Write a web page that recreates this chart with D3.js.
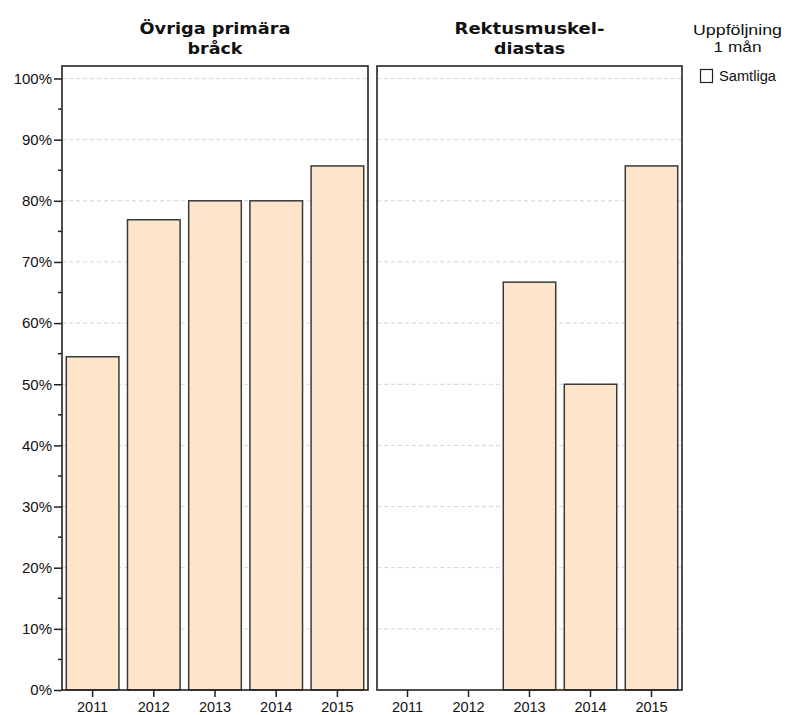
<!DOCTYPE html>
<html><head><meta charset="utf-8">
<script src="https://cdn.jsdelivr.net/npm/d3@7"></script>
<style>body{margin:0;background:#fff}svg{display:block}</style>
</head><body>
<svg id="c" width="786" height="715"></svg>
<script>
const years = ["2011","2012","2013","2014","2015"];
const panelTitles = [["Övriga primära","bråck"],["Rektusmuskel-","diastas"]];
const valuesOvriga = [0.545, 0.769, 0.80, 0.80, 0.857];
const valuesRektus = [null, null, 0.667, 0.50, 0.857];
const yTicks = [0,0.1,0.2,0.3,0.4,0.5,0.6,0.7,0.8,0.9,1.0];
const yMinorTicks = [0.05,0.15,0.25,0.35,0.45,0.55,0.65,0.75,0.85,0.95];
const legendTitle = ["Uppföljning","1 mån"];
const legendLabel = "Samtliga";

(function(){
const svg = d3.select("#c");
const frameTop = 66, frameBottom = 690;
const y = d3.scaleLinear().domain([0,1]).range([690, 78.5]);
const titleWidths = [[151,55],[150,71]];
const panels = [
  {x0:62, x1:368, vals:valuesOvriga, title:panelTitles[0], tw:titleWidths[0]},
  {x0:377, x1:682, vals:valuesRektus, title:panelTitles[1], tw:titleWidths[1]}
];
const fill = "#fde5cc", stroke = "#3a3a3a";

panels.forEach((p,i)=>{
  const x = d3.scaleBand().domain(years).range([p.x0,p.x1]).paddingInner(0.14).paddingOuter(0.07);
  const g = svg.append("g");
  g.selectAll("line.grid").data(yTicks.filter(t=>t>0)).enter().append("line")
    .attr("x1",p.x0).attr("x2",p.x1).attr("y1",d=>y(d)).attr("y2",d=>y(d))
    .attr("stroke","#d4d4d4").attr("stroke-width",1).attr("stroke-dasharray","4,3");
  const data = years.map((yr,j)=>({yr, v:p.vals[j]})).filter(d=>d.v!=null);
  g.selectAll("rect.bar").data(data).enter().append("rect")
    .attr("x",d=>x(d.yr)).attr("width",x.bandwidth())
    .attr("y",d=>y(d.v)).attr("height",d=>y(0)-y(d.v))
    .attr("fill",fill).attr("stroke",stroke).attr("stroke-width",1.5);
  g.append("rect").attr("x",p.x0).attr("y",frameTop).attr("width",p.x1-p.x0).attr("height",frameBottom-frameTop)
    .attr("fill","none").attr("stroke","#222").attr("stroke-width",1.6);
  const xa = svg.append("g").attr("transform",`translate(0,${frameBottom})`)
    .call(d3.axisBottom(x).tickSize(7).tickPadding(5));
  xa.select(".domain").remove();
  xa.selectAll("line").attr("stroke","#222").attr("stroke-width",1.5);
  xa.selectAll("text").attr("font-family","Liberation Sans, Arial, sans-serif").attr("font-size",14.5).attr("fill","#111");
  const cx = (p.x0+p.x1)/2;
  p.title.forEach((t,k)=>svg.append("text").attr("x",cx).attr("y",k?53.5:33.5)
    .attr("text-anchor","middle").attr("font-family","DejaVu Sans, sans-serif")
    .attr("font-weight","bold").attr("font-size",16).attr("fill","#111")
    .attr("textLength",p.tw[k]).attr("lengthAdjust","spacingAndGlyphs").text(t));
});

const ya = svg.append("g").attr("transform","translate(62,0)")
  .call(d3.axisLeft(y).tickValues(yTicks).tickFormat(d3.format(".0%")).tickSize(8).tickPadding(2));
ya.select(".domain").remove();
ya.selectAll("line").attr("stroke","#222").attr("stroke-width",1.5);
ya.selectAll("text").attr("font-family","Liberation Sans, Arial, sans-serif").attr("font-size",15).attr("fill","#111");
svg.append("g").selectAll("line").data(yMinorTicks).enter().append("line")
  .attr("x1",58).attr("x2",62).attr("y1",d=>y(d)).attr("y2",d=>y(d))
  .attr("stroke","#222").attr("stroke-width",1.5);

const legendWidths = [89,48];
legendTitle.forEach((t,k)=>svg.append("text").attr("x",737.5).attr("y",k?52:34.5).attr("text-anchor","middle")
  .attr("font-family","Liberation Sans, Arial, sans-serif").attr("font-size",15).attr("fill","#111")
  .attr("textLength",legendWidths[k]).attr("lengthAdjust","spacingAndGlyphs").text(t));
svg.append("rect").attr("x",700.5).attr("y",69.5).attr("width",12).attr("height",13)
  .attr("fill","#fff").attr("stroke","#222").attr("stroke-width",1.2);
svg.append("text").attr("x",719).attr("y",81).attr("font-family","Liberation Sans, Arial, sans-serif")
  .attr("font-size",14).attr("fill","#111").attr("textLength",57).attr("lengthAdjust","spacingAndGlyphs").text(legendLabel);
})();
</script>
</body></html>
